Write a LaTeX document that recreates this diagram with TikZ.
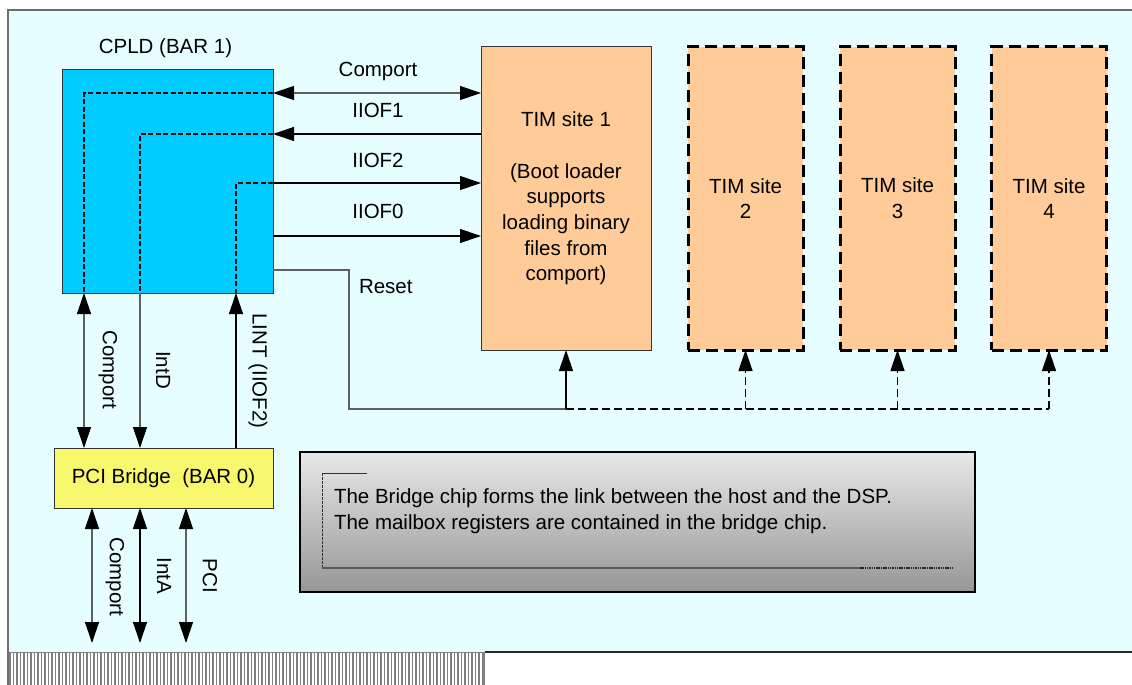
\documentclass[tikz,border=0pt]{standalone}
\usepackage{fontspec}
\setmainfont{Liberation Sans}
\usetikzlibrary{arrows.meta,calc}
\definecolor{bgcyan}{RGB}{230,254,255}
\definecolor{cpldblue}{RGB}{0,204,255}
\definecolor{timorange}{RGB}{255,204,153}
\definecolor{pciyellow}{RGB}{248,248,110}
\definecolor{linegray}{RGB}{95,95,95}
\definecolor{framegray}{RGB}{110,110,110}
\definecolor{hatchgray}{RGB}{128,128,128}
\definecolor{notetop}{RGB}{232,232,232}
\definecolor{notebot}{RGB}{150,150,150}
\begin{document}
\begin{tikzpicture}[x=1pt,y=-1pt,
  >={Triangle[length=21pt,width=14pt,color=black]},
  every node/.style={font=\fontsize{20.5}{25.7}\selectfont, inner sep=0pt, outer sep=0pt},
  conn/.style={line width=1.1pt},
  cpldbox/.style={draw=black!80, line width=1pt, fill=cpldblue},
  timbox/.style={draw=black!80, line width=1pt, fill=timorange, align=center},
  timdash/.style={draw=black, line width=3pt, dash pattern=on 12pt off 6pt, fill=timorange, align=center},
  pcibox/.style={draw=black!80, line width=1pt, fill=pciyellow},
  notebox/.style={draw=black, line width=1.5pt, top color=notetop, bottom color=notebot},
  innerdash/.style={line width=1.3pt, dash pattern=on 5pt off 2.5pt},
  busdash/.style={line width=1.3pt, dash pattern=on 8pt off 4pt},
  vlabel/.style={rotate=-90}
]
\useasboundingbox (0,0) rectangle (1132,685);
% frame and background
\fill[bgcyan] (8,10) rectangle (1132,652);
\fill[white] (8,652) rectangle (485,685);
\foreach \i in {0,...,135} \draw[hatchgray, line width=1.2pt] ({10+\i*3.5},652) -- ++(0,33);
\draw[hatchgray, line width=2.5pt] (484,652) -- (484,685);
\draw[hatchgray, line width=1pt] (8,652) -- (485,652);
\draw[black!85, line width=1.5pt] (485,652) -- (1132,652);
\draw[framegray, line width=1.5pt] (1132,10) -- (8,10) -- (8,685);

% coordinates
\coordinate (yC) at (0,93);
\coordinate (y1) at (0,134);
\coordinate (y2) at (0,183);
\coordinate (y0) at (0,236);
\coordinate (yR) at (0,270);
\coordinate (xCu) at (84,0);
\coordinate (xD) at (140,0);
\coordinate (xL) at (236,0);
\coordinate (bus0) at (349,409);
\coordinate (endC) at (92,643);
\coordinate (endA) at (140,643);
\coordinate (endP) at (186,643);

% nodes
\node[cpldbox, minimum width=211pt, minimum height=223pt] (cpld) at (167.5,181.5) {};
\node[anchor=base] (cpldlbl) at (165.5,54) {CPLD (BAR 1)};
\node[timbox, minimum width=170pt, minimum height=303pt] (tim1) at (566,198.5)
  {TIM site 1\\[25.7pt](Boot loader\\supports\\loading binary\\files from\\comport)};
\node[timdash, minimum width=115pt, minimum height=303pt] (tim2) at (745.5,198.5) {TIM site\\2};
\node[timdash, minimum width=115pt, minimum height=303pt] (tim3) at (897.5,198.5) {TIM site\\3};
\node[timdash, minimum width=115pt, minimum height=303pt] (tim4) at (1049,198.5) {TIM site\\4};
\node[pcibox, minimum width=219pt, minimum height=60pt] (pci) at (163.5,478) {PCI Bridge\ \ (BAR 0)};
\node[notebox, minimum width=675pt, minimum height=140pt] (note) at (637.5,522) {};
\node[anchor=west, align=left] (notetext) at (334,511.5)
  {The Bridge chip forms the link between the host and the DSP.\\The mailbox registers are contained in the bridge chip.};
% note decoration
\draw[black!80, line width=1pt, dash pattern=on 3pt off 1pt] (322,473) -- (322,568);
\draw[black!80, line width=1pt] (322,473) -- (367,473);
\draw[black!65, line width=1.6pt] (322,568) -- (860,568);
\draw[black!85, line width=1.3pt, dash pattern=on 1.5pt off 0.8pt] (860,568) -- (953,568);

% labels
\node[anchor=base] (lC) at (378,77) {Comport};
\node[anchor=base] (l1) at (378,117) {IIOF1};
\node[anchor=base] (l2) at (378,167) {IIOF2};
\node[anchor=base] (l0) at (378,218) {IIOF0};
\node[anchor=base west] (lR) at (359,293) {Reset};
\node[vlabel] (lCu) at (108,370) {Comport};
\node[vlabel] (lD) at (163,370) {IntD};
\node[vlabel] (lL) at (258,371) {LINT (IIOF2)};
\node[vlabel] (lCl) at (115,577) {Comport};
\node[vlabel] (lA) at (164,576) {IntA};
\node[vlabel] (lP) at (210,576) {PCI};

% connectors CPLD - TIM1
\draw[conn, <->, linegray] (cpld.east |- yC) -- (tim1.west |- yC);
\draw[conn, ->] (tim1.west |- y1) -- (cpld.east |- y1);
\draw[conn, ->] (cpld.east |- y2) -- (tim1.west |- y2);
\draw[conn, ->] (cpld.east |- y0) -- (tim1.west |- y0);
% dashed routes inside CPLD
\draw[innerdash] (cpld.east |- yC) -| (cpld.south -| xCu);
\draw[innerdash] (cpld.east |- y1) -| (cpld.south -| xD);
\draw[innerdash] (cpld.east |- y2) -| (cpld.south -| xL);
% CPLD - PCI
\draw[conn, <->, linegray] (cpld.south -| xCu) -- (pci.north -| xCu);
\draw[conn, ->, linegray] (cpld.south -| xD) -- (pci.north -| xD);
\draw[conn, ->] (pci.north -| xL) -- (cpld.south -| xL);
% PCI down
\draw[conn, <->, linegray] (pci.south -| endC) -- (endC);
\draw[conn, <->] (pci.south -| endA) -- (endA);
\draw[conn, <->, linegray] (pci.south -| endP) -- (endP);
% reset
\draw[conn, linegray] (cpld.east |- yR) -| (bus0) -- (tim1.south |- bus0);
\draw[conn, ->] (tim1.south |- bus0) -- (tim1.south);
\draw[busdash] (tim1.south |- bus0) -- (tim4.south |- bus0);
\draw[busdash, ->] (tim2.south |- bus0) -- (tim2.south);
\draw[busdash, ->] (tim3.south |- bus0) -- (tim3.south);
\draw[busdash, ->] (tim4.south |- bus0) -- (tim4.south);
\end{tikzpicture}
\end{document}
